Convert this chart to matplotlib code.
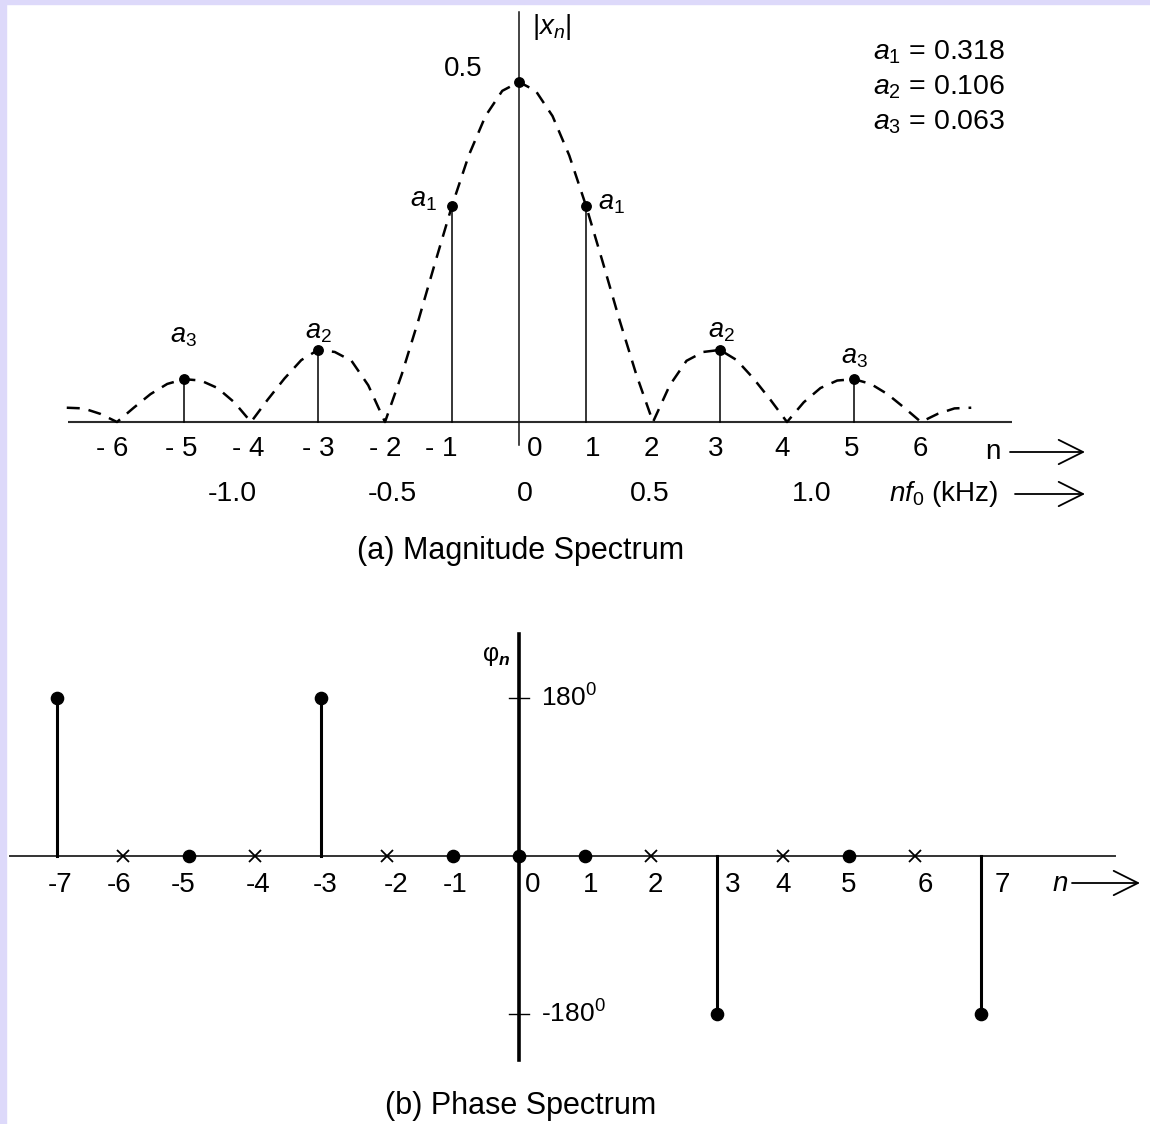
import numpy as np
import matplotlib
matplotlib.use("Agg")
import matplotlib.pyplot as plt
from matplotlib.patches import Rectangle, FancyArrowPatch

plt.rcParams["font.family"] = ["Liberation Sans", "DejaVu Sans"]
plt.rcParams["mathtext.fontset"] = "custom"
plt.rcParams["mathtext.rm"] = "Liberation Sans"
plt.rcParams["mathtext.it"] = "Liberation Sans:italic"
plt.rcParams["mathtext.bf"] = "Liberation Sans:bold:italic"

# ---------------- data ----------------
# magnitude spectrum |x_n| of the square wave
mag_n = [-5, -3, -1, 0, 1, 3, 5]
mag_vals = [0.063, 0.106, 0.318, 0.5, 0.318, 0.106, 0.063]
mag_tags = [3, 2, 1, None, 1, 2, 3]

coef_index = [1, 2, 3]
coef_vals = [0.318, 0.106, 0.063]

# dashed sinc-shaped envelope, sampled every quarter harmonic
env_n = np.arange(-6.75, 6.76, 0.25)
env_vals = [0.021, 0.020, 0.012, 0.000, 0.021, 0.041, 0.056, 0.063, 0.061,
            0.050, 0.029, 0.000, 0.033, 0.064, 0.091, 0.106, 0.103, 0.090,
            0.054, 0.000, 0.070, 0.150, 0.235, 0.318, 0.392, 0.450, 0.487,
            0.500,
            0.487, 0.450, 0.392, 0.318, 0.235, 0.150, 0.070, 0.000, 0.054,
            0.090, 0.103, 0.106, 0.091, 0.064, 0.033, 0.000, 0.029, 0.050,
            0.061, 0.063, 0.056, 0.041, 0.021, 0.000, 0.012, 0.020, 0.021]

n_ticks = list(range(-6, 7))
n_labels = ["- 6", "- 5", "- 4", "- 3", "- 2", "- 1", "0",
            "1", "2", "3", "4", "5", "6"]
f0_khz = 0.25
freq_ticks = [-1.0, -0.5, 0.0, 0.5, 1.0]
freq_labels = ["-1.0", "-0.5", "0", "0.5", "1.0"]

# phase spectrum (NaN = harmonic absent, phase undefined)
phase_n = list(range(-7, 8))
phase_deg = [180, np.nan, 0, np.nan, 180, np.nan, 0, 0, 0,
             np.nan, -180, np.nan, 0, np.nan, -180]
phase_ticks = [180, -180]
phase_tick_labels = [r"180$^{0}$", r"-180$^{0}$"]

# ---------------- layout ----------------
W, H = 1150, 1124
fig = plt.figure(figsize=(W / 100, H / 100), dpi=100)
fig.patch.set_facecolor("white")

lav = "#DDD9FA"
fig.patches.append(Rectangle((0, 0), 6 / W, 1, transform=fig.transFigure,
                             color=lav, zorder=0))
fig.patches.append(Rectangle((0, 1 - 4 / H), 1, 4 / H,
                             transform=fig.transFigure, color=lav, zorder=0))


def axes_px(top, bottom):
    ax = fig.add_axes([0, 1 - bottom / H, 1, (bottom - top) / H])
    ax.axis("off")
    ax.patch.set_alpha(0)
    return ax


def fpx(x, y):
    return (x / W, 1 - y / H)


# ---------- (a) magnitude spectrum ----------
X0, NX1, Y1, MAG = 519, 67.0, 422, 680.0
ax1 = axes_px(0, 600)
ax1.set_xlim(-X0 / NX1, (W - X0) / NX1)
ax1.set_ylim(-(600 - Y1) / MAG, Y1 / MAG)

ax1.plot([(68 - X0) / NX1, (1012 - X0) / NX1], [0, 0], color="#2b2b2b",
         lw=1.5, solid_capstyle="butt")
ax1.plot([0, 0], [-(445 - Y1) / MAG, (Y1 - 12) / MAG], color="#111111",
         lw=1.1)
ax1.plot(env_n, env_vals, color="black", lw=1.8, ls=(0, (5.2, 3.6)))
for n, v in zip(mag_n, mag_vals):
    if n != 0:
        ax1.plot([n, n], [0, v], color="black", lw=1.1)
ax1.plot(mag_n, mag_vals, "o", ms=6.8, color="black", zorder=5)

tag_off = {-5: (-1, 43), -3: (0, 18), -1: (-29, 6),
           1: (25, 3), 3: (1, 19), 5: (0, 22)}
for n, v, k in zip(mag_n, mag_vals, mag_tags):
    if k is None:
        ax1.annotate(f"{v:g}", (n, v), xytext=(-56, 13),
                     textcoords="offset pixels", ha="center", va="center",
                     fontsize=20)
    else:
        ax1.annotate(rf"$a_{k}$", (n, v), xytext=tag_off[n],
                     textcoords="offset pixels", ha="center", va="center",
                     fontsize=19.5)

ax1.annotate(r"$|x_n|$", (0, (Y1 - 27) / MAG), xytext=(33, 0),
             textcoords="offset pixels", ha="center", va="center",
             fontsize=20)

for i, v in zip(coef_index, coef_vals):
    fig.text(*fpx(873, 17 + 35 * i), rf"$a_{i}$ = {v:.3f}", fontsize=20.5,
             ha="left", va="center")

n_dx = [-5, -3, -3, 0, 0, -11, 16, 7, -2, -4, -5, -2, -1]
for n, lbl, dx in zip(n_ticks, n_labels, n_dx):
    ax1.annotate(lbl, (n, 0), xytext=(dx, -27), textcoords="offset pixels",
                 ha="center", va="center", fontsize=20)

f_dx = [-19, 7, 6, -3, 25]
for f, lbl, dx in zip(freq_ticks, freq_labels, f_dx):
    ax1.annotate(lbl, (f / f0_khz, 0), xytext=(dx, -72),
                 textcoords="offset pixels", ha="center", va="center",
                 fontsize=20.5)

fig.text(*fpx(993, 452), "n", fontsize=20, ha="center", va="center")
fig.text(*fpx(944, 494), r"$nf_0$ (kHz)", fontsize=20, ha="center",
         va="center")
arrow = dict(arrowstyle="->,head_length=0.7,head_width=0.35", lw=1.3,
             color="black", shrinkA=0, shrinkB=0, mutation_scale=25)
for x_a, x_b, y in [(1010, 1085, 452), (1015, 1085, 494), (1072, 1140, 883)]:
    fig.add_artist(FancyArrowPatch((x_a / W, 1 - y / H), (x_b / W, 1 - y / H),
                                   transform=fig.transFigure, **arrow))

fig.text(*fpx(521, 551), "(a) Magnitude Spectrum", fontsize=22,
         ha="center", va="center")

# ---------- (b) phase spectrum ----------
NX2, Y2, DEG = 66.0, 856, 158 / 180
ax2 = axes_px(600, H)
ax2.set_xlim(-X0 / NX2, (W - X0) / NX2)
ax2.set_ylim(-(H - Y2) / DEG, (Y2 - 600) / DEG)

ax2.plot([(10 - X0) / NX2, (1115 - X0) / NX2], [0, 0], color="#333333",
         lw=1.4)
ax2.plot([0, 0], [-(1060 - Y2) / DEG, (Y2 - 634) / DEG], color="black",
         lw=2.6)
for t, lbl in zip(phase_ticks, phase_tick_labels):
    ax2.plot([-10 / NX2, 10 / NX2], [t, t], color="black", lw=1.0)
    ax2.annotate(lbl, (0, t), xytext=(22, 0), textcoords="offset pixels",
                 ha="left", va="center", fontsize=19)

ph_n = np.array(phase_n, dtype=float)
ph = np.array(phase_deg, dtype=float)
known = ~np.isnan(ph)
for n, p in zip(ph_n[known], ph[known]):
    if p != 0:
        ax2.plot([n, n], [0, p], color="black", lw=2.2)
ax2.plot(ph_n[known], ph[known], "o", ms=8.8, color="black", zorder=5)
ax2.plot(ph_n[~known], np.zeros((~known).sum()), "x", ms=8, mew=1.3,
         color="black", zorder=5)

p_dx = [3, -4, -6, 3, 4, 9, 2, 14, 6, 4, 16, 0, 0, 10, 21]
for n, dx in zip(phase_n, p_dx):
    ax2.annotate(f"{n}", (n, 0), xytext=(dx, -29), textcoords="offset pixels",
                 ha="center", va="center", fontsize=20)

fig.text(*fpx(1060, 884), r"$n$", fontsize=20, ha="center", va="center")
ax2.annotate(r"φ$_{\mathbf{n}}$", (0, (Y2 - 656) / DEG), xytext=(-23, 0),
             textcoords="offset pixels", ha="center", va="center",
             fontsize=18)

fig.text(*fpx(521, 1106), "(b) Phase Spectrum", fontsize=22, ha="center",
         va="center")

fig.savefig("out.png", dpi=100, facecolor="white")
